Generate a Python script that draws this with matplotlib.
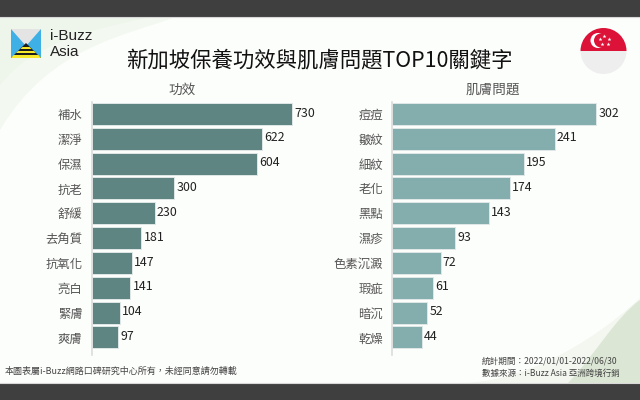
import numpy as np
import matplotlib
matplotlib.use("Agg")
import matplotlib.pyplot as plt
from matplotlib.patches import Polygon, Circle, Wedge, Rectangle, PathPatch
from matplotlib.path import Path

CJK = ['Noto Sans CJK TC', 'DejaVu Sans']
plt.rcParams['font.family'] = CJK

title = "新加坡保養功效與肌膚問題TOP10關鍵字"
left_title = "功效"
right_title = "肌膚問題"
left_cats = ["補水", "潔淨", "保濕", "抗老", "舒緩", "去角質", "抗氧化", "亮白", "緊膚", "爽膚"]
left_vals = [730, 622, 604, 300, 230, 181, 147, 141, 104, 97]
right_cats = ["痘痘", "皺紋", "細紋", "老化", "黑點", "濕疹", "色素沉澱", "瑕疵", "暗沉", "乾燥"]
right_vals = [302, 241, 195, 174, 143, 93, 72, 61, 52, 44]
note = "本圖表屬i-Buzz網路口碑研究中心所有，未經同意請勿轉載"
period = "統計期間：2022/01/01-2022/06/30"
source = "數據來源：i-Buzz Asia 亞洲跨境行銷"

W, H = 640, 400
fig = plt.figure(figsize=(6.4, 4.0), dpi=100, facecolor="white")

bg = fig.add_axes([0, 0, 1, 1], zorder=0)
bg.set_xlim(0, W)
bg.set_ylim(H, 0)
bg.axis("off")


def curve(verts, color):
    codes = [Path.MOVETO] + [Path.CURVE4] * (len(verts) - 1) + [Path.CLOSEPOLY]
    bg.add_patch(PathPatch(Path(verts + [verts[0]], codes), fc=color, ec="none"))


bg.add_patch(Rectangle((0, 17), W, 366, fc="#fcfefb", ec="none"))
# corner swooshes
curve([(0, 17), (175, 17), (175, 17), (175, 17), (130, 35), (50, 45), (0, 130)], "#f3f8f0")
curve([(0, 17), (150, 17), (150, 17), (150, 17), (100, 28), (35, 40), (0, 85)], "#eef5ea")
curve([(640, 298), (590, 345), (520, 383), (460, 383), (640, 383), (640, 383), (640, 383)], "#f3f7f0")
curve([(640, 300), (615, 318), (595, 355), (568, 383), (640, 383), (640, 383), (640, 383)], "#dbe6d4")
bg.add_patch(Rectangle((0, 0), W, 17, fc="#3f3f3f", ec="none"))
bg.add_patch(Rectangle((0, 383), W, 17, fc="#3f3f3f", ec="none"))
bg.plot([0, W], [17.3, 17.3], color="#d8d8d8", lw=0.8)
bg.plot([0, W], [382.7, 382.7], color="#d8d8d8", lw=0.8)

# logo
bg.add_patch(Rectangle((11, 29), 30, 29, fc="#3fb0e6", ec="none"))
bg.add_patch(Polygon([(11, 29), (41, 29), (26, 46)], fc="#e4e4e4", ec="none"))
bg.add_patch(Polygon([(11, 58), (41, 58), (26, 43)], fc="#1c1c1c", ec="none"))
bg.add_patch(Polygon([(11, 58), (41, 58), (38.5, 55), (13.5, 55)], fc="#f7e92a", ec="none"))
bg.add_patch(Polygon([(16, 53), (36, 53), (34, 51), (18, 51)], fc="#f7e92a", ec="none"))
bg.add_patch(Polygon([(20.5, 49), (31.5, 49), (29.5, 47), (22.5, 47)], fc="#f7e92a", ec="none"))
bg.text(50, 35.5, "i-Buzz", fontsize=11, color="#222222", ha="left", va="center",
        family="Liberation Sans")
bg.text(50, 52, "Asia", fontsize=11, color="#222222", ha="left", va="center",
        family="Liberation Sans")

# flag
bg.add_patch(Wedge((603.5, 51), 23, 180, 360, fc="#dc1238", ec="none"))
bg.add_patch(Wedge((603.5, 51), 23, 0, 180, fc="#eeeeef", ec="none"))
bg.add_patch(Circle((598, 40.5), 7.5, fc="white", ec="none"))
bg.add_patch(Circle((601, 40.5), 7, fc="#dc1238", ec="none"))
for sx, sy in [(604, 35.5), (609, 39), (607.5, 44), (601.5, 44), (600, 39)]:
    bg.plot(sx, sy, marker="*", ms=3, color="white", mec="none")

bg.text(319, 60.5, title, fontsize=15.4, color="#111111", ha="center", va="center",
        fontweight="medium")
bg.text(182, 90, left_title, fontsize=9.8, color="#555555", ha="center", va="center")
bg.text(493, 90, right_title, fontsize=9.8, color="#555555", ha="center", va="center")
bg.text(5, 371, note, fontsize=6.5, color="#444444", ha="left", va="center")
bg.text(482, 361, period, fontsize=6.2, color="#444444", ha="left", va="center")
bg.text(482, 373, source, fontsize=6.15, color="#444444", ha="left", va="center")


def panel(x0, width_px, px_per_unit, cats, vals, color):
    y_top, y_bot = 101.8, 355.0
    ax = fig.add_axes([x0 / W, 1 - y_bot / H, width_px / W, (y_bot - y_top) / H],
                      zorder=2, facecolor="none")
    ax.set_xlim(0, width_px / px_per_unit)
    ax.set_ylim(9.71, -0.49)
    ax.barh(range(len(vals)), vals, height=0.885, color=color, edgecolor="#dfe8e6",
            linewidth=0.7)
    ax.set_yticks(range(len(cats)))
    ax.set_yticklabels(cats, fontsize=8.9, color="#555555")
    ax.set_xticks([])
    ax.tick_params(axis="y", length=0, pad=6.5)
    for s in ["top", "right", "bottom"]:
        ax.spines[s].set_visible(False)
    ax.spines["left"].set_color("#dcdcdc")
    ax.spines["left"].set_linewidth(1.2)
    for i, v in enumerate(vals):
        ax.annotate(str(v), (v, i), xytext=(1.6, 0.6), textcoords="offset points",
                    va="center", ha="left", fontsize=8.9, color="#222222")
    return ax


panel(91.5, 225, 200.5 / 730, left_cats, left_vals, "#5f8583")
panel(392, 230, 204 / 302, right_cats, right_vals, "#84aead")

fig.savefig("out.png", dpi=100)
